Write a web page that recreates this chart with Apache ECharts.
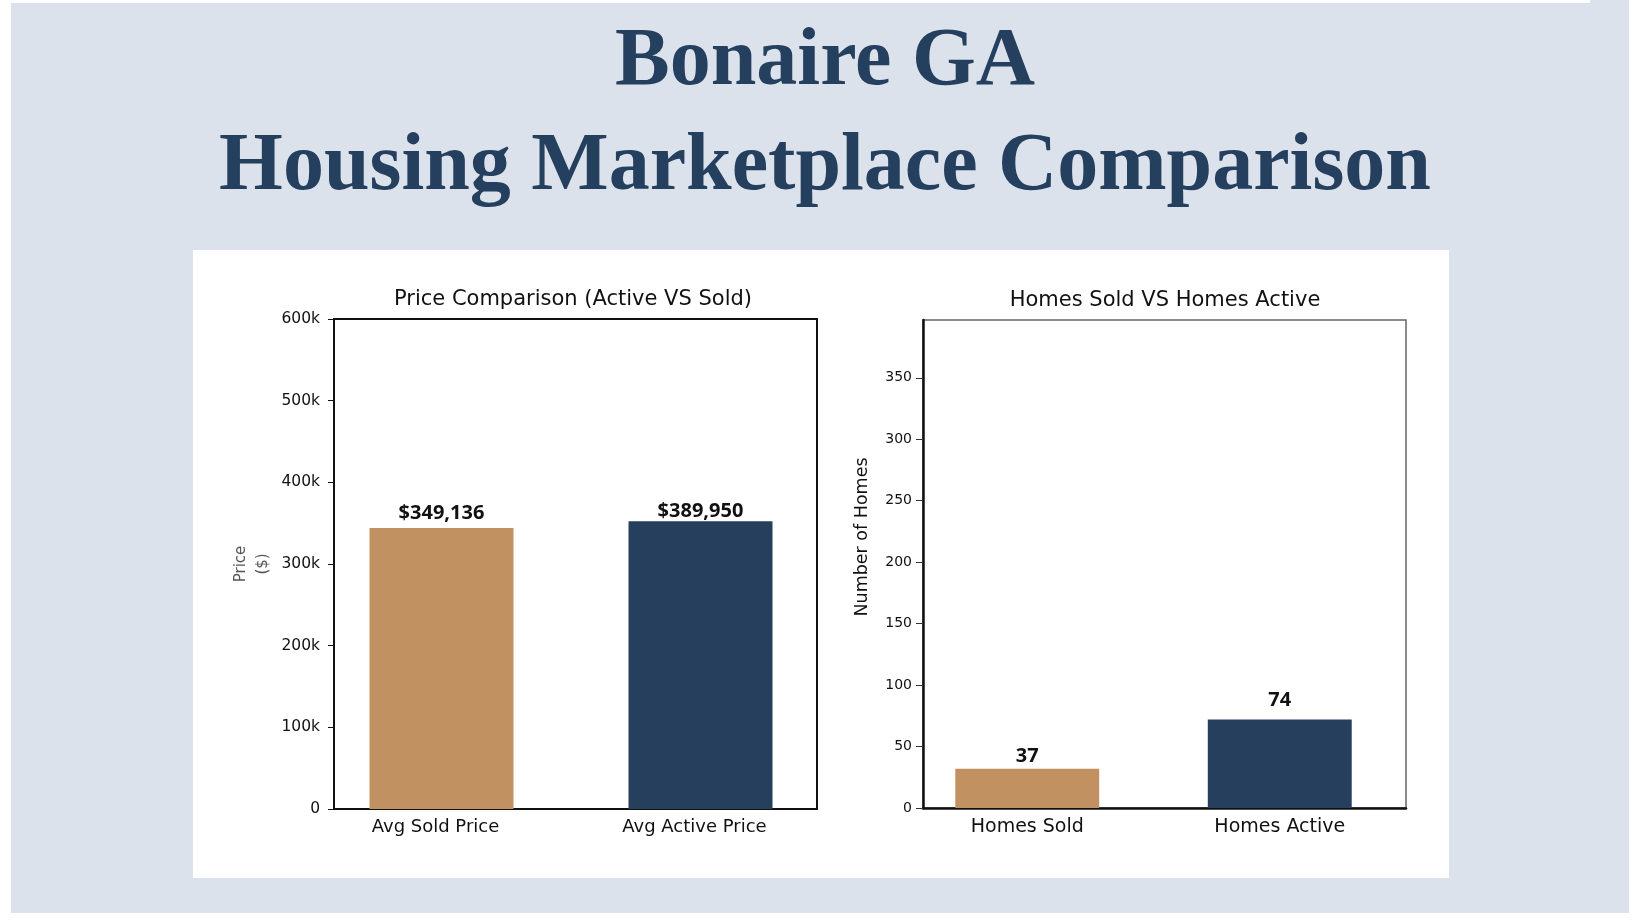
<!DOCTYPE html>
<html>
<head>
<meta charset="utf-8">
<script src="https://cdn.jsdelivr.net/npm/echarts@6/dist/echarts.min.js"></script>
<style>
  html, body { margin: 0; padding: 0; background: #ffffff; }
  #chart { width: 1640px; height: 924px; }
</style>
</head>
<body>
<div id="chart"></div>
<script>
// data
var priceCategories = ['Avg Sold Price', 'Avg Active Price'];
var priceValues = [344000, 352500];
var priceLabels = ['$349,136', '$389,950'];

var homesCategories = ['Homes Sold', 'Homes Active'];
var homesValues = [32, 72];
var homesLabels = ['37', '74'];

// styling
var barColors = ['#c19161', '#263f5d'];
var priceLabelGap = [5, 0];
var homesLabelGap = [2, 9];

var sans = '"DejaVu Sans", "Noto Sans", sans-serif';
var bold = '"Noto Sans", "DejaVu Sans", sans-serif';
var serif = '"Liberation Serif", "DejaVu Serif", serif';
var navy = '#253f5f';

function barData(values, labels, gaps) {
    return values.map(function (v, i) {
        return {
            value: v,
            itemStyle: { color: barColors[i] },
            label: { formatter: labels[i], distance: gaps[i] }
        };
    });
}

var option = {
    animation: false,
    backgroundColor: '#ffffff',
    graphic: [
        { type: 'rect', z: -10, shape: { x: 11, y: 3, width: 1618, height: 910 }, style: { fill: '#dbe2eb' } },
        { type: 'rect', z: -10, shape: { x: 1590, y: 0, width: 39, height: 4 }, style: { fill: '#dbe2eb' } },
        { type: 'rect', z: -9, shape: { x: 193, y: 250, width: 1256, height: 628 }, style: { fill: '#ffffff' } }
    ],
    title: [
        {
            text: 'Bonaire GA', left: 825, top: 22, textAlign: 'center', padding: 0,
            textStyle: { fontFamily: serif, fontSize: 82, fontWeight: 'bold', color: navy }
        },
        {
            text: 'Housing Marketplace Comparison', left: 825, top: 127, textAlign: 'center', padding: 0,
            textStyle: { fontFamily: serif, fontSize: 82, fontWeight: 'bold', color: navy }
        },
        {
            text: 'Price Comparison (Active VS Sold)', left: 573, top: 289, textAlign: 'center', padding: 0,
            textStyle: { fontFamily: sans, fontSize: 21, fontWeight: 'normal', color: '#111' }
        },
        {
            text: 'Homes Sold VS Homes Active', left: 1165, top: 290, textAlign: 'center', padding: 0,
            textStyle: { fontFamily: sans, fontSize: 21, fontWeight: 'normal', color: '#111' }
        }
    ],
    grid: [
        // left: frame + bars
        { left: 334, top: 319, width: 483, height: 490, show: true, borderColor: '#111', borderWidth: 2, backgroundColor: 'transparent' },
        { left: 312, top: 319, width: 518, height: 490 },
        // right: frame + bars
        { left: 923, top: 320, width: 483, height: 488, show: true, borderColor: '#666', borderWidth: 1.5, backgroundColor: 'transparent' },
        { left: 901, top: 320, width: 505, height: 488 }
    ],
    xAxis: [
        { gridIndex: 0, type: 'category', data: priceCategories, show: false },
        {
            gridIndex: 1, type: 'category', data: priceCategories,
            axisLine: { show: false }, axisTick: { show: false },
            axisLabel: { margin: 9, fontFamily: sans, fontSize: 18, color: '#111', padding: [0, 12, 0, 0] }
        },
        {
            gridIndex: 2, type: 'category', data: homesCategories,
            axisLine: { show: true, lineStyle: { color: '#111', width: 2.5 } },
            axisTick: { show: false }, axisLabel: { show: false }
        },
        {
            gridIndex: 3, type: 'category', data: homesCategories,
            axisLine: { show: false }, axisTick: { show: false },
            axisLabel: { margin: 10, fontFamily: sans, fontSize: 19, color: '#111' }
        }
    ],
    yAxis: [
        {
            gridIndex: 0, type: 'value', min: 0, max: 600000, interval: 100000,
            name: 'Price\n($)', nameLocation: 'middle', nameRotate: 90, nameGap: 60,
            nameTextStyle: { fontFamily: sans, fontSize: 15, color: '#555', lineHeight: 22 },
            axisLine: { show: true, lineStyle: { color: '#111', width: 2 } },
            axisTick: { show: true, length: 6, lineStyle: { color: '#111' } },
            axisLabel: {
                margin: 14, fontFamily: sans, fontSize: 15.5, color: '#111',
                formatter: function (v) { return v === 0 ? '0' : (v / 1000) + 'k'; }
            },
            splitLine: { show: false }
        },
        { gridIndex: 1, type: 'value', min: 0, max: 600000, show: false },
        {
            gridIndex: 2, type: 'value', min: 0, max: 397, interval: 50,
            name: 'Number of Homes', nameLocation: 'middle', nameRotate: 90, nameGap: 52,
            nameTextStyle: { fontFamily: sans, fontSize: 17.5, color: '#111', padding: [0, 0, 0, 54] },
            axisLine: { show: true, lineStyle: { color: '#111', width: 2.5 } },
            axisTick: { show: true, length: 7, lineStyle: { color: '#333' } },
            axisLabel: { margin: 11, fontFamily: sans, fontSize: 14, color: '#111', showMaxLabel: false },
            splitLine: { show: false }
        },
        { gridIndex: 3, type: 'value', min: 0, max: 397, show: false }
    ],
    series: [
        {
            type: 'bar', xAxisIndex: 1, yAxisIndex: 1, barWidth: '55.6%',
            data: barData(priceValues, priceLabels, priceLabelGap),
            label: { show: true, position: 'top', fontFamily: bold, fontSize: 20, fontWeight: 'bold', color: '#111' }
        },
        {
            type: 'bar', xAxisIndex: 3, yAxisIndex: 3, barWidth: '57%',
            data: barData(homesValues, homesLabels, homesLabelGap),
            label: { show: true, position: 'top', fontFamily: bold, fontSize: 20, fontWeight: 'bold', color: '#111' }
        }
    ]
};

echarts.init(document.getElementById('chart')).setOption(option);
</script>
</body>
</html>
